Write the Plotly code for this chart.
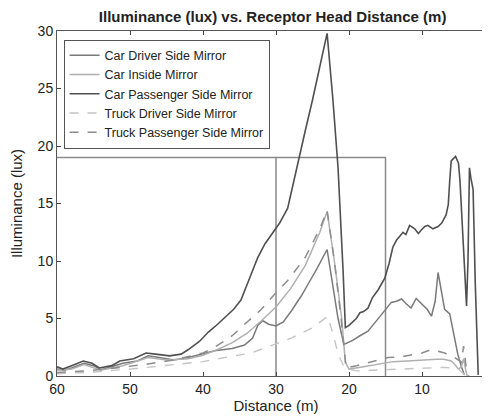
import plotly.graph_objects as go

# ---- data ----
cp_d = [60, 59.2, 58, 56.4, 55.2, 54.2, 52.5, 51.4, 49.5, 47.8, 46.5, 44.6, 43, 42, 40.5, 39.3, 38, 37, 35.8, 34.8,
        33.8, 32.5, 31.5, 30.2, 29.5, 28.4, 27.2, 26, 25, 24, 23, 22.2, 21.5, 20.8, 20.5, 20, 19.7, 19, 18.5, 18,
        17.4, 16.8, 16, 15.1, 14.5, 14, 13.5, 12.6, 12.2, 11.7, 11, 10.5, 10.1, 9.6, 9.2, 8.5, 7.8, 7.3, 6.7, 6.4,
        6.2, 6.0, 5.4, 5.0, 4.8, 4.4, 4.1, 3.9, 3.7, 3.5, 3.3, 3.0, 2.7, 2.3]
cp_v = [0.8, 0.6, 0.9, 1.3, 1.1, 0.7, 0.9, 1.3, 1.5, 2.0, 1.9, 1.75, 1.9, 2.3, 3.0, 3.8, 4.5, 5.1, 5.8, 6.6,
        8.2, 10.3, 11.5, 12.6, 13.3, 14.6, 18.1, 21.3, 24.0, 26.9, 29.8, 24.0, 18.1, 9.0, 4.2, 4.4, 4.6, 5.0, 5.5, 5.6,
        5.9, 6.8, 7.5, 8.5, 9.8, 11.2, 11.8, 12.5, 12.3, 13.1, 12.8, 12.4, 12.7, 13.0, 13.1, 12.8, 13.0, 13.3, 14.0, 14.9,
        17.0, 18.7, 19.1, 18.5, 17.0, 12.0, 7.5, 6.1, 10.0, 18.1, 17.2, 16.2, 8.0, 0.1]

cd_d = [60, 59, 58, 56.3, 55, 54, 52.5, 51, 49, 47.5, 46, 44, 42, 40, 38.4, 36, 34.3, 33.2, 32.5, 31.8, 31, 30,
        29, 27.9, 26.5, 25.6, 24.5, 23, 22.3, 21.5, 20.7, 20.2, 19.5, 18.5, 17.4, 16.5, 15.5, 14.9, 14.2, 13.5,
        12.8, 12.2, 11.5, 10.8, 10, 9.3, 8.7, 8.2, 7.8, 7.4, 6.9, 6.2, 5.6, 5.1, 4.6, 4.2]
cd_v = [0.6, 0.5, 0.7, 1.1, 0.9, 0.55, 0.8, 1.1, 1.3, 1.75, 1.6, 1.4, 1.6, 1.9, 2.2, 2.4, 2.7, 3.3, 4.4, 4.8, 4.5, 4.35,
        4.7, 5.65, 7.0, 8.0, 9.2, 11.0, 8.0, 5.0, 2.75, 2.9, 3.1, 3.5, 3.9, 4.6, 5.4, 5.9, 6.4, 6.5,
        6.7, 6.3, 5.9, 6.75, 6.2, 5.8, 5.2, 6.5, 9.0, 7.5, 5.8, 5.4, 3.5, 1.9, 0.8, 0.1]

ci_d = [60, 58, 56.3, 54, 51, 47.5, 45, 42, 40, 38, 36, 34, 32, 30, 28, 26, 24, 23, 22, 21, 20.5, 20, 18, 16,
        14, 12, 10, 8, 7, 6, 5.5, 5, 4.6, 4.3, 4.0, 3.8]
ci_v = [0.5, 0.6, 1.0, 0.5, 0.9, 1.6, 1.4, 1.5, 1.8, 2.3, 2.9, 3.7, 4.8, 6.0, 7.6, 9.6, 12.5, 14.3, 10.0, 5.0, 1.2, 0.6,
        0.8, 1.0, 1.25, 1.3, 1.4, 1.45, 1.45, 1.3, 1.0, 0.6, 0.8, 1.5, 0.5, 0.0]

td_d = [60, 55, 50, 45, 40, 38.4, 36, 33.4, 30, 27.9, 25, 22.9, 22, 21.5, 20.6, 19, 17, 15, 13.7, 11, 9, 7, 6, 5,
        4.5, 4.0]
td_v = [0.2, 0.35, 0.6, 0.9, 1.25, 1.45, 1.7, 2.0, 2.8, 3.3, 4.2, 5.2, 3.2, 1.9, 0.7, 0.45, 0.5, 0.55, 0.6, 0.7,
        0.75, 0.75, 0.7, 0.6, 0.3, 0.0]

tp_d = [60, 56, 52, 48, 44, 40, 38.4, 36, 34.3, 32, 30.2, 28.4, 26, 24, 23, 22, 21, 20.4, 19, 17, 14.7, 13, 11.5,
        10, 8.7, 7.5, 6.9, 5.5, 4.6, 4.3, 4.1, 3.9, 3.6]
tp_v = [0.3, 0.45, 0.7, 1.0, 1.4, 2.0, 2.5, 3.5, 4.5, 5.8, 7.1, 8.3, 10.3, 12.8, 14.4, 10.0, 4.5, 0.7, 0.9, 1.2, 1.6,
        1.65, 1.8, 2.0, 2.3, 2.1, 2.0, 1.6, 1.2, 2.6, 1.5, 0.5, 0.0]

# region box (horizontal line at 19 from 60 to 15, verticals at 30 and 15)
box_x = [60, 15, 15, None, 30, 30]
box_y = [19, 19, 0, None, 19, 0]

x_ticks = [60, 50, 40, 30, 20, 10, 0]
y_ticks = [0, 5, 10, 15, 20, 25, 30]

FONT = "Liberation Sans, Arial, sans-serif"

fig = go.Figure()
fig.add_trace(go.Scatter(x=box_x, y=box_y, mode="lines", showlegend=False,
                         line=dict(color="#8a8a8a", width=1.5), hoverinfo="skip"))
fig.add_trace(go.Scatter(x=cd_d, y=cd_v, mode="lines", name="Car Driver Side Mirror",
                         line=dict(color="#7a7a7a", width=1.5)))
fig.add_trace(go.Scatter(x=ci_d, y=ci_v, mode="lines", name="Car Inside Mirror",
                         line=dict(color="#b0b0b0", width=1.5)))
fig.add_trace(go.Scatter(x=cp_d, y=cp_v, mode="lines", name="Car Passenger Side Mirror",
                         line=dict(color="#505050", width=1.6)))
fig.add_trace(go.Scatter(x=td_d, y=td_v, mode="lines", name="Truck Driver Side Mirror",
                         line=dict(color="#c4c4c4", width=1.4, dash="dash")))
fig.add_trace(go.Scatter(x=tp_d, y=tp_v, mode="lines", name="Truck Passenger Side Mirror",
                         line=dict(color="#8c8c8c", width=1.5, dash="dash")))

fig.update_layout(
    width=490, height=417,
    margin=dict(l=49, r=3, t=23, b=49),
    paper_bgcolor="white", plot_bgcolor="white",
    font=dict(family=FONT, size=14, color="#222"),
    title=dict(text="<b>Illuminance (lux) vs. Receptor Head Distance (m)</b>",
               x=0.54, xanchor="center", y=0.992, yanchor="top",
               font=dict(family=FONT, size=15, color="#222")),
    showlegend=True,
    legend=dict(x=0.015, y=0.975, xanchor="left", yanchor="top",
                bgcolor="white", bordercolor="#555", borderwidth=1,
                font=dict(family=FONT, size=12.5, color="#222"),
                tracegroupgap=0, itemwidth=30),
)
fig.update_xaxes(range=[60, 0], tickvals=x_ticks, ticks="inside", ticklen=4,
                 showline=True, linecolor="#555", linewidth=1, mirror="allticks",
                 showgrid=False, zeroline=False, tickfont=dict(size=14),
                 title=dict(text="Distance (m)", standoff=0, font=dict(size=15)))
fig.update_yaxes(range=[0, 30], tickvals=y_ticks, ticks="inside", ticklen=4,
                 showline=True, linecolor="#555", linewidth=1, mirror="allticks",
                 showgrid=False, zeroline=False, tickfont=dict(size=14),
                 title=dict(text="Illuminance (lux)", standoff=12, font=dict(size=15)))

fig.write_html("out.html")
